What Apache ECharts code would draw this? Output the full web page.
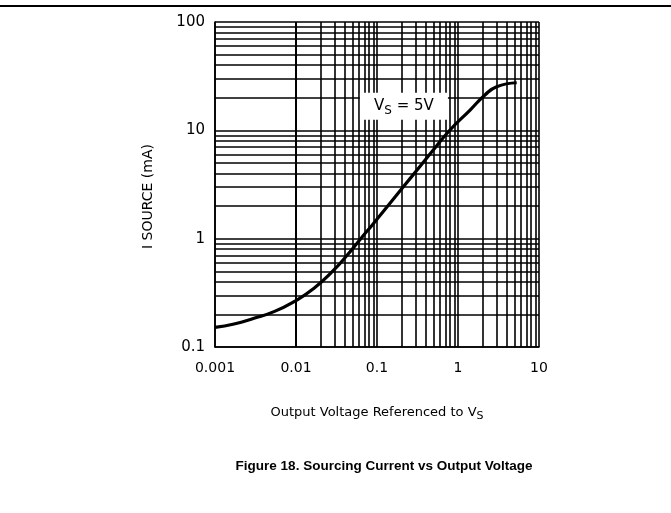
<!DOCTYPE html>
<html>
<head>
<meta charset="utf-8">
<script src="https://cdn.jsdelivr.net/npm/echarts@6/dist/echarts.min.js"></script>
<style>
  html, body { margin: 0; padding: 0; background: #fff; }
  #chart { width: 671px; height: 513px; }
</style>
</head>
<body>
<div id="chart"></div>
<script>
// output voltage referenced to Vs (V) and sourcing current (mA)
const outVolts = [0.001, 0.00172, 0.00303, 0.00535, 0.00944, 0.0167, 0.0294, 0.043, 0.063, 0.0875, 0.135, 0.209, 0.32, 0.495, 0.796, 1.41, 2.15, 3.0, 5.31]
const sourceMa = [0.152, 0.163, 0.184, 0.212, 0.262, 0.348, 0.514, 0.706, 1.0, 1.34, 1.99, 2.98, 4.4, 6.58, 10.07, 15.4, 21.2, 25.3, 27.5]

// log grid: decade starts and the 2..9 steps inside each decade
const xDecades = [0.001, 0.01, 0.1, 1]
const yDecades = [0.1, 1, 10]
const minorSteps = [2, 3, 4, 5, 6, 7, 8, 9]

// annotation
const noteText = 'V{sub|S} = 5V'
const notePos = [0.215, 16.7]

const chart = echarts.init(document.getElementById('chart'))

// minor grid lines as markLines so they sit on the log scale
const minorLines = []
xDecades.forEach(d => {
  minorSteps.forEach(k => minorLines.push({ xAxis: +(d * k).toPrecision(3) }))
})
yDecades.forEach(d => {
  minorSteps.forEach(k => minorLines.push({ yAxis: +(d * k).toPrecision(3) }))
})

const font = 'DejaVu Sans'
const gridLine = { color: '#000', width: 1.6 }

const option = {
  animation: false,
  grid: { left: 215, top: 22, width: 324, height: 325 },
  xAxis: {
    type: 'log',
    logBase: 10,
    min: 0.001,
    max: 10,
    interval: 1,
    name: 'Output Voltage Referenced to V{sub|S}',
    nameLocation: 'middle',
    nameGap: 56,
    nameTextStyle: {
      color: '#000',
      fontFamily: font,
      fontSize: 13,
      rich: {
        sub: { fontFamily: font, fontSize: 11, color: '#000', padding: [8, 0, 0, 0] }
      }
    },
    axisLine: { show: true, lineStyle: gridLine },
    axisTick: { show: false },
    axisLabel: { color: '#000', fontFamily: font, fontSize: 14, margin: 14 },
    splitLine: { show: true, lineStyle: gridLine }
  },
  yAxis: {
    type: 'log',
    logBase: 10,
    min: 0.1,
    max: 100,
    interval: 1,
    name: 'I SOURCE (mA)',
    nameLocation: 'middle',
    nameGap: 60,
    nameRotate: 90,
    nameTextStyle: { color: '#000', fontFamily: font, fontSize: 14, padding: [0, 24, 0, 0] },
    axisLine: { show: true, lineStyle: gridLine },
    axisTick: { show: false },
    axisLabel: { color: '#000', fontFamily: font, fontSize: 15, margin: 10 },
    splitLine: { show: true, lineStyle: gridLine }
  },
  graphic: [
    {
      type: 'line',
      shape: { x1: 0, y1: 6, x2: 671, y2: 6 },
      style: { stroke: '#000', lineWidth: 2 }
    },
    {
      type: 'text',
      x: 384,
      y: 466,
      style: {
        text: 'Figure 18. Sourcing Current vs Output Voltage',
        fill: '#000',
        font: 'bold 13.5px "Liberation Sans", Arial, sans-serif',
        align: 'center',
        verticalAlign: 'middle'
      }
    }
  ],
  series: [
    {
      type: 'line',
      data: outVolts.map((v, i) => [v, sourceMa[i]]),
      smooth: 0.5,
      showSymbol: false,
      lineStyle: { color: '#000', width: 3.2 },
      z: 5,
      markLine: {
        silent: true,
        symbol: 'none',
        label: { show: false },
        lineStyle: { color: '#000', width: 1.6, type: 'solid' },
        data: minorLines,
        z: 1
      },
      markPoint: {
        silent: true,
        symbol: 'rect',
        symbolSize: [88, 27],
        itemStyle: { color: '#fff' },
        label: {
          show: true,
          position: 'inside',
          formatter: noteText,
          color: '#000',
          fontFamily: font,
          fontSize: 15,
          rich: {
            sub: { fontFamily: font, fontSize: 12, color: '#000', padding: [9, 0, 0, 0] }
          }
        },
        data: [{ coord: notePos }]
      }
    }
  ]
}

chart.setOption(option)
</script>
</body>
</html>
